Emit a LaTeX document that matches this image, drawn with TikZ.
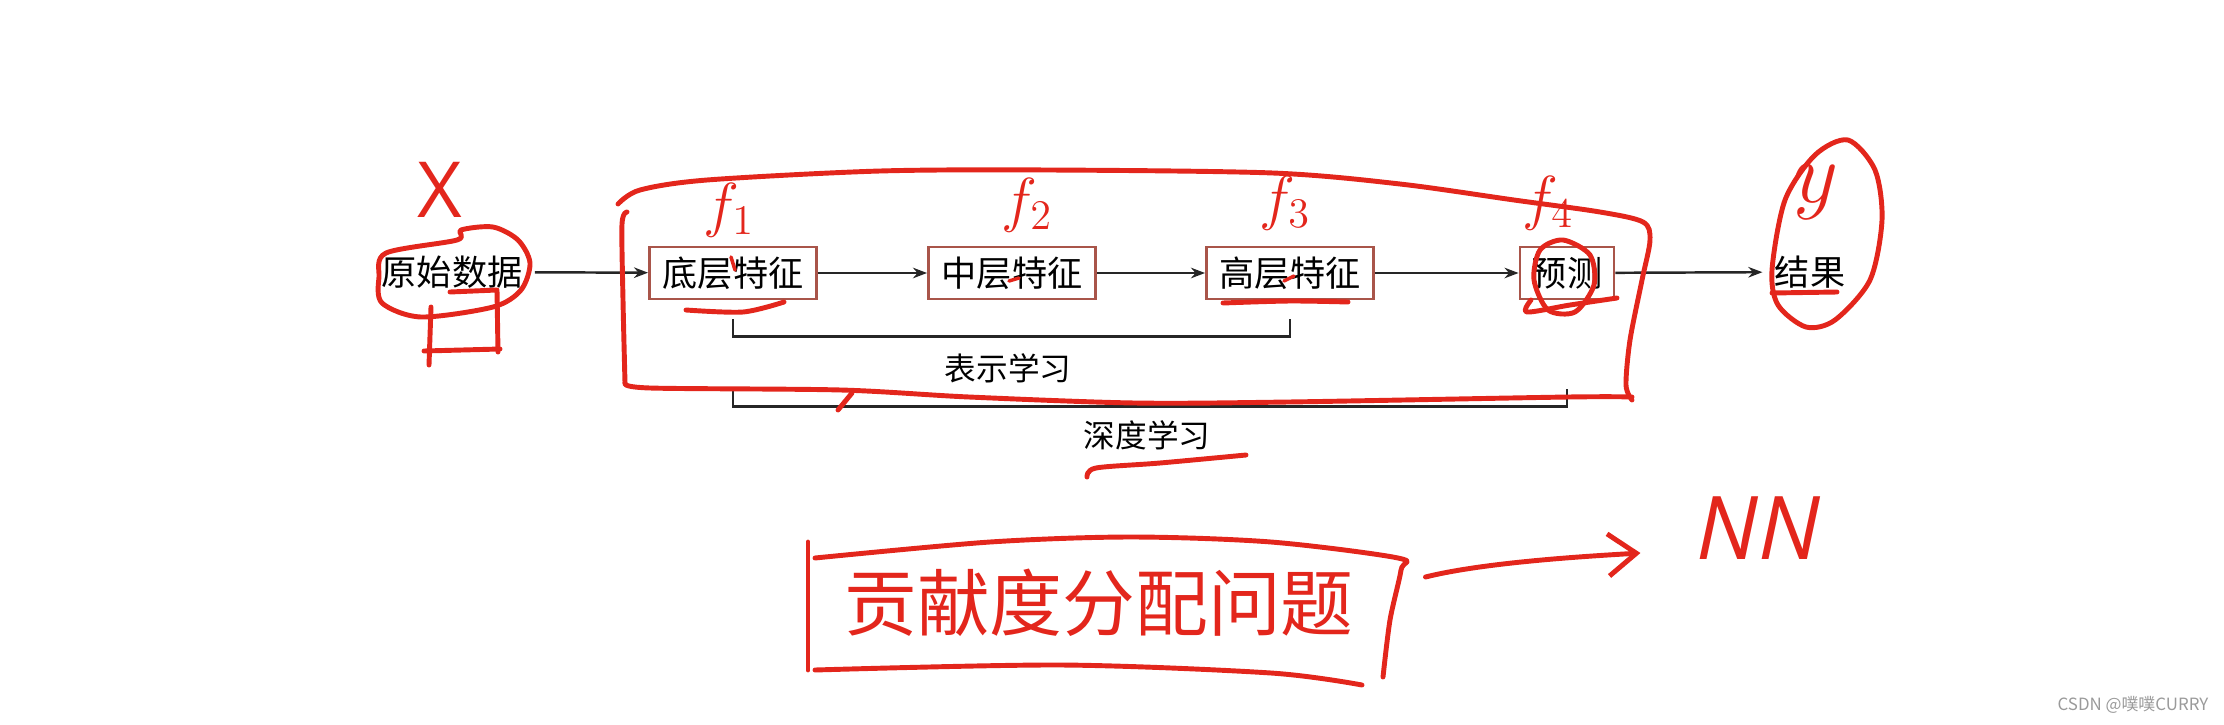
\documentclass[tikz,border=0pt]{standalone}
\usepackage{fontspec}
\newfontfamily\cjk{Noto Sans CJK SC}
\newfontfamily\handfont{Open Sans}
\usetikzlibrary{arrows.meta,calc}
\definecolor{BoxEdge} {HTML}{A9554A}
\definecolor{PenRed}  {HTML}{E3261C}
\definecolor{MarkGray}{HTML}{9A9A9A}
\tikzset{
  feat/.style={rectangle,draw=BoxEdge,line width=0.8pt,minimum width=1.67cm,
               minimum height=0.52cm,inner sep=1pt,font=\cjk\fontsize{10}{12}\selectfont},
  txt/.style={font=\cjk\fontsize{10}{12}\selectfont},
  brlabel/.style={font=\cjk\fontsize{9}{11}\selectfont},
  arr/.style={-{Stealth[length=4pt,width=3pt]},line width=0.7pt,color=black!85},
  brk/.style={line width=0.8pt,color=black!85},
  pen/.style={draw=PenRed,line width=1.4pt,line cap=round,line join=round},
  penmark/.style={text=PenRed,inner sep=0pt},
}
\begin{document}
\begin{tikzpicture}[x=0.01cm,y=-0.01cm]
  \useasboundingbox (0,0) rectangle (2224,724);

  % pipeline
  \node[txt] (raw) at (452,272) {原始数据};
  \node[feat] (low) at (733,273) {底层特征};
  \node[feat] (mid) at (1012,273) {中层特征};
  \node[feat] (high) at (1290,273) {高层特征};
  \node[feat,minimum width=0.94cm] (pred) at (1567,273) {预测};
  \node[txt] (res) at (1810,272) {结果};

  \draw[arr] (raw)  -- (low);
  \draw[arr] (low)  -- (mid);
  \draw[arr] (mid)  -- (high);
  \draw[arr] (high) -- (pred);
  \draw[arr] (pred) -- (res);

  % brackets
  \draw[brk] ($(low.south)+(0,19)$) -- ++(0,17) -| ($(high.south)+(0,19)$);
  \node[brlabel] (repr) at (1008,368) {表示学习};
  \draw[brk] ($(low.south)+(0,89)$) -- ++(0,17) -| ($(pred.south)+(0,89)$);
  \node[brlabel] (deep) at (1147,435) {深度学习};

  % hand notes
  \node[penmark,font=\handfont\fontsize{22}{24}\selectfont] (xlab) at (440,190) {X};
  \node[penmark,font=\fontsize{18}{20}\selectfont] (fa) at (729,210) {$f_1$};
  \node[penmark,font=\fontsize{18}{20}\selectfont] (fb) at (1027,205) {$f_2$};
  \node[penmark,font=\fontsize{18}{20}\selectfont] (fc) at (1285,203) {$f_3$};
  \node[penmark,font=\fontsize{18}{20}\selectfont] (fd) at (1548,203) {$f_4$};
  \node[penmark,font=\fontsize{32}{34}\selectfont] (ylab) at (1816,192) {$y$};

  \draw[pen] plot[smooth cycle] coordinates {(386,253) (457,240) (461,230) (493,227)
    (518,240) (530,263) (521,290) (493,307) (421,317) (382,303) (379,277)};
  \draw[pen] (450,292) -- (497,290) -- (498,352);
  \draw[pen] (424,351) -- (500,349);
  \draw[pen] (431,307) -- (429,365);

  \draw[pen] plot[smooth] coordinates {(1632,400) (1626,385) (1630,340) (1642,280)
    (1650,240) (1643,222) (1600,212) (1514,200) (1400,184) (1273,173) (1050,170)
    (880,171) (707,180) (640,190) (618,204)};
  \draw[pen] plot[smooth] coordinates {(627,212) (622,224) (623,300) (625,383)};
  \draw[pen] plot[smooth] coordinates {(625,383) (650,388) (841,390) (969,397)
    (1135,403) (1288,402) (1568,397) (1632,397)};
  \draw[pen] (838,410) -- (852,393);

  \draw[pen,line width=1pt] (731,257) -- (735,270);
  \draw[pen,line width=1pt] (1009,281) -- (1019,278);
  \draw[pen,line width=1pt] (1284,281) -- (1294,276);
  \draw[pen] plot[smooth] coordinates {(686,310) (743,312) (784,302)};
  \draw[pen] plot[smooth] coordinates {(1223,303) (1290,301) (1348,302)};
  \draw[pen] plot[smooth] coordinates {(1531,300) (1527,312) (1570,305) (1617,298)};
  \draw[pen] plot[smooth cycle] coordinates {(1563,240) (1590,255) (1594,285)
    (1575,312) (1548,310) (1534,280) (1540,250)};
  \draw[pen] (1772,293) -- (1837,292);
  \draw[pen] plot[smooth cycle] coordinates {(1848,140) (1875,170) (1882,220)
    (1870,280) (1835,320) (1806,327) (1778,305) (1772,270) (1785,200) (1815,155)};
  \draw[pen] plot[smooth] coordinates {(1087,477) (1096,468) (1160,463) (1246,455)};

  % credit problem
  \node[penmark,font=\cjk\fontsize{20.7}{24}\selectfont] (contrib) at (1099,603) {贡献度分配问题};
  \draw[pen] (808,542) -- (808,670);
  \draw[pen] plot[smooth] coordinates {(815,558) (990,542) (1131,537) (1271,542)
    (1398,558) (1401,570) (1390,620) (1383,677)};
  \draw[pen] plot[smooth] coordinates {(1362,685) (1271,673) (1061,665) (815,670)};
  \node[penmark,font=\handfont\itshape\fontsize{25}{27}\selectfont] (nn) at (1758,528) {NN};
  \draw[pen,-{Straight Barb[length=8pt,width=12pt]}]
    ($(contrib.east)+(71,-26)$) .. controls +(60,-15) and +(-50,3) .. ($(nn.west)+(-55,25)$);

  \node[font=\cjk\fontsize{4.8}{5}\selectfont,text=MarkGray] (mark) at (2133,705) {CSDN @噗噗CURRY};
\end{tikzpicture}
\end{document}
